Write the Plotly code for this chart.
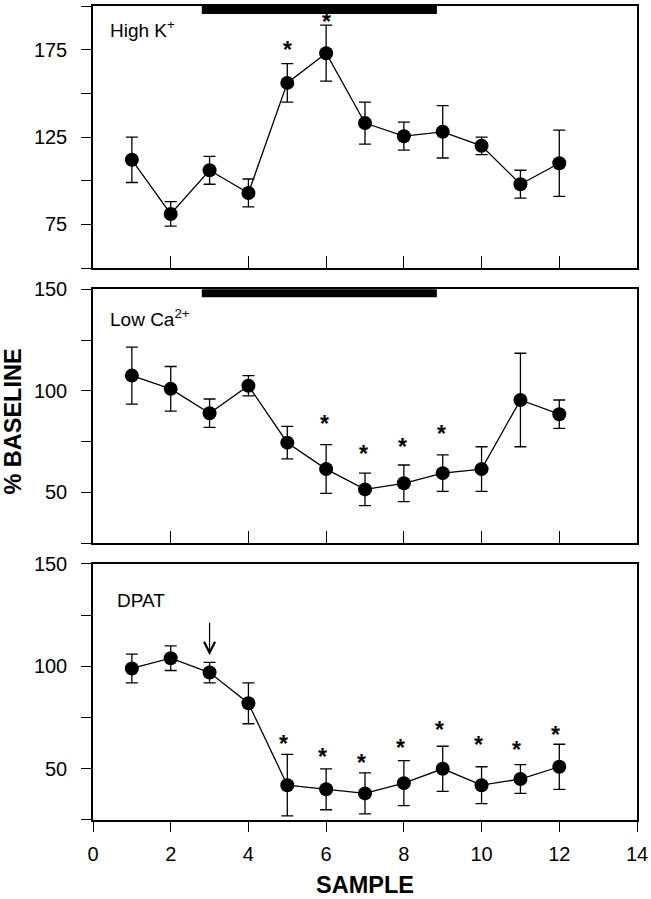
import plotly.graph_objects as go

# ---------------- data ----------------
samples = [1, 2, 3, 4, 5, 6, 7, 8, 9, 10, 11, 12]

highk_mean = [112, 81, 106, 93, 156, 173, 133, 125.5, 128, 120, 98, 110]
highk_sem = [13, 7, 8, 8, 11, 16, 12, 8, 15, 5, 8, 19]

lowca_mean = [107.5, 101, 89, 102.5, 74.5, 61.5, 51.5, 54.5, 59.5, 61.5, 95.5, 88.5]
lowca_sem = [14, 11, 7, 5, 8, 12, 8, 9, 9, 11, 23, 7]

dpat_mean = [99, 104, 97, 82, 42, 40, 38, 43, 50, 42, 45, 51]
dpat_sem = [7, 6, 5, 10, 15, 10, 10, 11, 11, 9, 7, 11]

# significance markers (sample, y position of asterisk)
highk_sig_x = [5, 6]
highk_sig_y = [177, 193]
lowca_sig_x = [6, 7, 8, 9]
lowca_sig_y = [85.5, 71, 74.5, 80.5]
dpat_sig_x = [5, 6, 7, 8, 9, 10, 11, 12]
dpat_sig_y = [64, 57.5, 55, 62, 71, 63.5, 61, 68.5]

# treatment periods (horizontal bars) and DPAT injection arrow
treatment_period = [2.8, 8.85]
dpat_arrow_x = 3
dpat_arrow_from = 122
dpat_arrow_to = 105.5

panel_labels = ["High K<sup>+</sup>", "Low Ca<sup>2+</sup>", "DPAT"]

x_ticks = [0, 2, 4, 6, 8, 10, 12, 14]
top_yticks = [50, 75, 100, 125, 150, 175, 200]
top_yticktext = ["", "75", "", "125", "", "175", ""]
low_yticks = [25, 50, 75, 100, 125, 150]
low_yticktext = ["", "50", "", "100", "", "150"]

# ---------------- figure ----------------
FONT = "Liberation Sans, Arial, Helvetica, sans-serif"
fig = go.Figure()

panels = [
    (highk_mean, highk_sem, "x", "y"),
    (lowca_mean, lowca_sem, "x2", "y2"),
    (dpat_mean, dpat_sem, "x3", "y3"),
]
for mean, sem, xa, ya in panels:
    fig.add_trace(go.Scatter(
        x=samples, y=mean, xaxis=xa, yaxis=ya,
        mode="lines+markers",
        line=dict(color="black", width=1.3),
        marker=dict(color="black", size=14),
        error_y=dict(type="data", array=sem, visible=True,
                     color="black", thickness=1.3, width=6),
        showlegend=False, hoverinfo="skip",
    ))

axis_line = dict(showline=True, linecolor="black", linewidth=1.5, mirror=True,
                 showgrid=False, zeroline=False, automargin=False)
tickfont = dict(family=FONT, size=20, color="black")

domains = [[0.678, 1.0], [0.340, 0.652], [0.0, 0.3145]]

layout = dict(
    width=651, height=899,
    margin=dict(l=93, r=14, t=6, b=79, autoexpand=False),
    paper_bgcolor="white", plot_bgcolor="white",
    font=dict(family=FONT, color="black"),
)
for i, (dom, ytv, ytt, yr) in enumerate([
        (domains[0], top_yticks, top_yticktext, [50, 200]),
        (domains[1], low_yticks, low_yticktext, [25, 150]),
        (domains[2], low_yticks, low_yticktext, [25, 150])]):
    sfx = "" if i == 0 else str(i + 1)
    last = (i == 2)
    layout["xaxis" + sfx] = dict(
        axis_line, range=[0, 14], anchor="y" + sfx,
        tickmode="array",
        tickvals=x_ticks if last else x_ticks[1:-1],
        ticks="outside" if last else "inside",
        ticklen=10 if last else 12, tickwidth=1.3, tickcolor="black",
        showticklabels=last, tickfont=tickfont, ticklabelstandoff=5,
    )
    layout["yaxis" + sfx] = dict(
        axis_line, range=yr, domain=dom, anchor="x" + sfx,
        tickmode="array", tickvals=ytv, ticktext=ytt,
        ticks="outside", ticklen=10, tickwidth=1.3, tickcolor="black",
        tickfont=tickfont, ticklabelstandoff=10,
    )
fig.update_layout(**layout)

annotations = []
# panel labels
label_pos = [(0.027, 0.912, "x domain", "y domain"),
             (0.027, 0.886, "x2 domain", "y2 domain"),
             (0.041, 0.857, "x3 domain", "y3 domain")]
for text, (lx, ly, xr, yr) in zip(panel_labels, label_pos):
    annotations.append(dict(text=text, x=lx, y=ly, xref=xr, yref=yr,
                            xanchor="left", yanchor="middle", showarrow=False,
                            font=dict(family=FONT, size=19, color="black")))

# asterisks
for xs, ys, xr, yr, xs_px in [(highk_sig_x, highk_sig_y, "x", "y", 0),
                              (lowca_sig_x, lowca_sig_y, "x2", "y2", -1.5),
                              (dpat_sig_x, dpat_sig_y, "x3", "y3", -3.5)]:
    for sx, sy in zip(xs, ys):
        annotations.append(dict(text="<b>*</b>", x=sx, y=sy, xref=xr, yref=yr,
                                xanchor="center", yanchor="middle",
                                showarrow=False, xshift=xs_px, yshift=-4,
                                font=dict(family=FONT, size=23, color="black")))

# DPAT arrow
annotations.append(dict(text="", x=dpat_arrow_x, y=dpat_arrow_to,
                        ax=dpat_arrow_x, ay=dpat_arrow_from,
                        xref="x3", yref="y3", axref="x3", ayref="y3",
                        showarrow=True, arrowhead=5, arrowsize=1.8,
                        arrowwidth=1.2, arrowcolor="black", standoff=0))

# axis titles
annotations.append(dict(text="<b>SAMPLE</b>", x=0.5, y=-0.08, xref="paper", yref="paper",
                        xanchor="center", yanchor="middle", showarrow=False,
                        font=dict(family=FONT, size=23.5, color="black")))
annotations.append(dict(text="<b>% BASELINE</b>", x=-0.1477, y=0.489,
                        xref="paper", yref="paper", textangle=-90,
                        xanchor="center", yanchor="middle", showarrow=False,
                        font=dict(family=FONT, size=23.5, color="black")))
fig.update_layout(annotations=annotations)

# treatment bars at top of first two panels
shapes = []
for xr, yr, h in [("x", "y domain", 8 / 262), ("x2", "y2 domain", 8 / 254)]:
    shapes.append(dict(type="rect", xref=xr, yref=yr,
                       x0=treatment_period[0], x1=treatment_period[1],
                       y0=1 - h, y1=1, fillcolor="black", line=dict(width=0)))
fig.update_layout(shapes=shapes)

fig.write_html("out.html",
               config={"displayModeBar": False},
               post_script="document.body.style.margin='0';"
                           "document.body.style.overflow='hidden';")
